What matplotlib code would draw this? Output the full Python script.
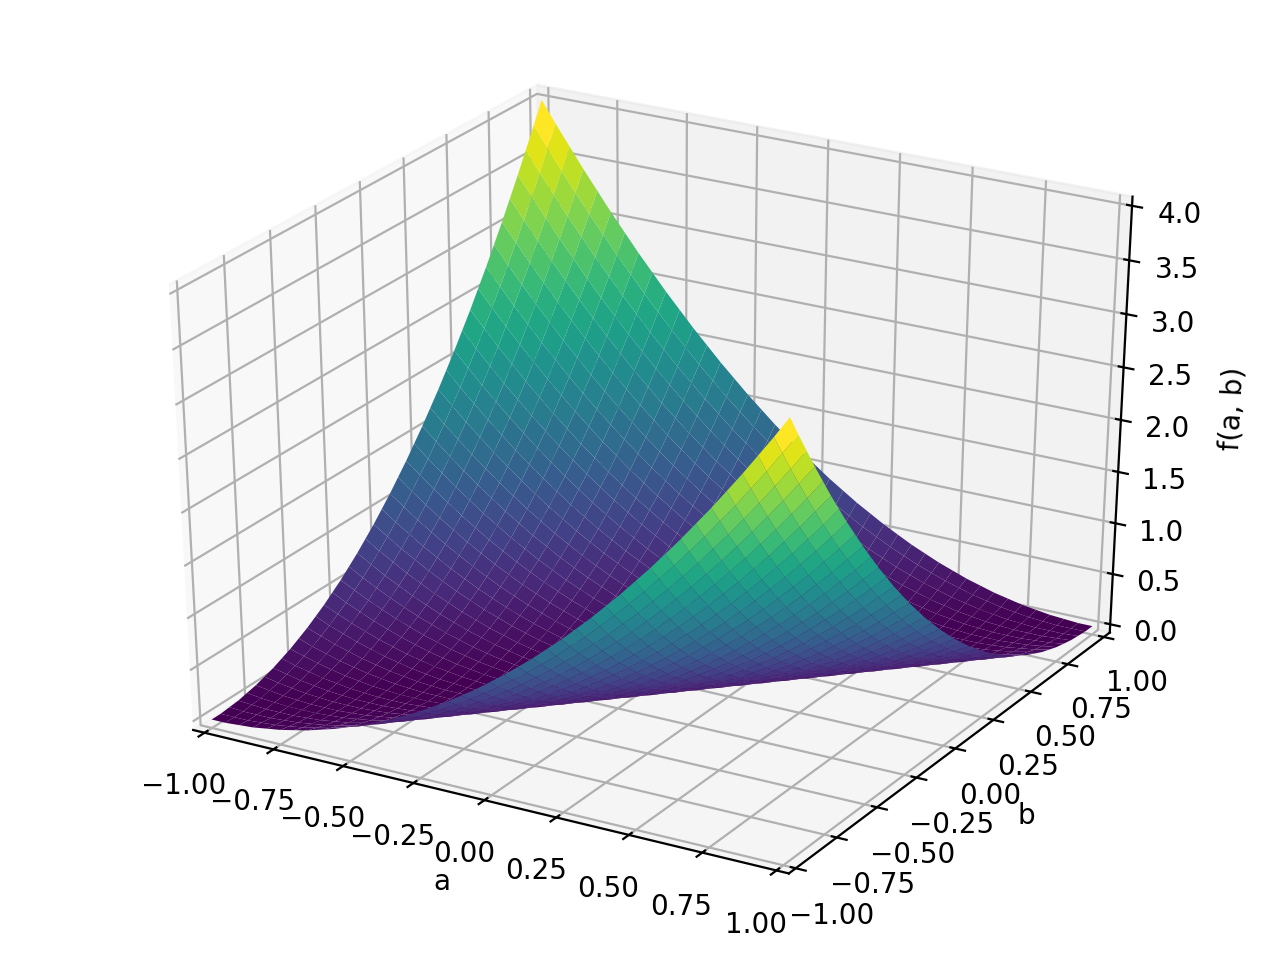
import numpy as np
import matplotlib
matplotlib.use("Agg")
import matplotlib.pyplot as plt

a_values = [-1.0, -0.95, -0.9, -0.85, -0.8, -0.75, -0.7, -0.65, -0.6, -0.55, -0.5, -0.45, -0.4, -0.35,
            -0.3, -0.25, -0.2, -0.15, -0.1, -0.05, 0.0, 0.05, 0.1, 0.15, 0.2, 0.25, 0.3, 0.35, 0.4, 0.45,
            0.5, 0.55, 0.6, 0.65, 0.7, 0.75, 0.8, 0.85, 0.9, 0.95, 1.0]
b_values = a_values
ab_ticks = [-1.0, -0.75, -0.5, -0.25, 0.0, 0.25, 0.5, 0.75, 1.0]
f_ticks = [0.0, 0.5, 1.0, 1.5, 2.0, 2.5, 3.0, 3.5, 4.0]

# heights, one row per b
f_values = [
    [0,0,.01,.02,.04,.06,.09,.12,.16,.2,.25,.3,.36,.42,.49,.56,.64,.72,.81,.9,1,1.1,1.21,1.32,1.44,1.56,1.69,1.82,1.96,2.1,2.25,2.4,2.56,2.72,2.89,3.06,3.24,3.42,3.61,3.8,4],
    [0,0,0,.01,.02,.04,.06,.09,.12,.16,.2,.25,.3,.36,.42,.49,.56,.64,.72,.81,.9,1,1.1,1.21,1.32,1.44,1.56,1.69,1.82,1.96,2.1,2.25,2.4,2.56,2.72,2.89,3.06,3.24,3.42,3.61,3.8],
    [.01,0,0,0,.01,.02,.04,.06,.09,.12,.16,.2,.25,.3,.36,.42,.49,.56,.64,.72,.81,.9,1,1.1,1.21,1.32,1.44,1.56,1.69,1.82,1.96,2.1,2.25,2.4,2.56,2.72,2.89,3.06,3.24,3.42,3.61],
    [.02,.01,0,0,0,.01,.02,.04,.06,.09,.12,.16,.2,.25,.3,.36,.42,.49,.56,.64,.72,.81,.9,1,1.1,1.21,1.32,1.44,1.56,1.69,1.82,1.96,2.1,2.25,2.4,2.56,2.72,2.89,3.06,3.24,3.42],
    [.04,.02,.01,0,0,0,.01,.02,.04,.06,.09,.12,.16,.2,.25,.3,.36,.42,.49,.56,.64,.72,.81,.9,1,1.1,1.21,1.32,1.44,1.56,1.69,1.82,1.96,2.1,2.25,2.4,2.56,2.72,2.89,3.06,3.24],
    [.06,.04,.02,.01,0,0,0,.01,.02,.04,.06,.09,.12,.16,.2,.25,.3,.36,.42,.49,.56,.64,.72,.81,.9,1,1.1,1.21,1.32,1.44,1.56,1.69,1.82,1.96,2.1,2.25,2.4,2.56,2.72,2.89,3.06],
    [.09,.06,.04,.02,.01,0,0,0,.01,.02,.04,.06,.09,.12,.16,.2,.25,.3,.36,.42,.49,.56,.64,.72,.81,.9,1,1.1,1.21,1.32,1.44,1.56,1.69,1.82,1.96,2.1,2.25,2.4,2.56,2.72,2.89],
    [.12,.09,.06,.04,.02,.01,0,0,0,.01,.02,.04,.06,.09,.12,.16,.2,.25,.3,.36,.42,.49,.56,.64,.72,.81,.9,1,1.1,1.21,1.32,1.44,1.56,1.69,1.82,1.96,2.1,2.25,2.4,2.56,2.72],
    [.16,.12,.09,.06,.04,.02,.01,0,0,0,.01,.02,.04,.06,.09,.12,.16,.2,.25,.3,.36,.42,.49,.56,.64,.72,.81,.9,1,1.1,1.21,1.32,1.44,1.56,1.69,1.82,1.96,2.1,2.25,2.4,2.56],
    [.2,.16,.12,.09,.06,.04,.02,.01,0,0,0,.01,.02,.04,.06,.09,.12,.16,.2,.25,.3,.36,.42,.49,.56,.64,.72,.81,.9,1,1.1,1.21,1.32,1.44,1.56,1.69,1.82,1.96,2.1,2.25,2.4],
    [.25,.2,.16,.12,.09,.06,.04,.02,.01,0,0,0,.01,.02,.04,.06,.09,.12,.16,.2,.25,.3,.36,.42,.49,.56,.64,.72,.81,.9,1,1.1,1.21,1.32,1.44,1.56,1.69,1.82,1.96,2.1,2.25],
    [.3,.25,.2,.16,.12,.09,.06,.04,.02,.01,0,0,0,.01,.02,.04,.06,.09,.12,.16,.2,.25,.3,.36,.42,.49,.56,.64,.72,.81,.9,1,1.1,1.21,1.32,1.44,1.56,1.69,1.82,1.96,2.1],
    [.36,.3,.25,.2,.16,.12,.09,.06,.04,.02,.01,0,0,0,.01,.02,.04,.06,.09,.12,.16,.2,.25,.3,.36,.42,.49,.56,.64,.72,.81,.9,1,1.1,1.21,1.32,1.44,1.56,1.69,1.82,1.96],
    [.42,.36,.3,.25,.2,.16,.12,.09,.06,.04,.02,.01,0,0,0,.01,.02,.04,.06,.09,.12,.16,.2,.25,.3,.36,.42,.49,.56,.64,.72,.81,.9,1,1.1,1.21,1.32,1.44,1.56,1.69,1.82],
    [.49,.42,.36,.3,.25,.2,.16,.12,.09,.06,.04,.02,.01,0,0,0,.01,.02,.04,.06,.09,.12,.16,.2,.25,.3,.36,.42,.49,.56,.64,.72,.81,.9,1,1.1,1.21,1.32,1.44,1.56,1.69],
    [.56,.49,.42,.36,.3,.25,.2,.16,.12,.09,.06,.04,.02,.01,0,0,0,.01,.02,.04,.06,.09,.12,.16,.2,.25,.3,.36,.42,.49,.56,.64,.72,.81,.9,1,1.1,1.21,1.32,1.44,1.56],
    [.64,.56,.49,.42,.36,.3,.25,.2,.16,.12,.09,.06,.04,.02,.01,0,0,0,.01,.02,.04,.06,.09,.12,.16,.2,.25,.3,.36,.42,.49,.56,.64,.72,.81,.9,1,1.1,1.21,1.32,1.44],
    [.72,.64,.56,.49,.42,.36,.3,.25,.2,.16,.12,.09,.06,.04,.02,.01,0,0,0,.01,.02,.04,.06,.09,.12,.16,.2,.25,.3,.36,.42,.49,.56,.64,.72,.81,.9,1,1.1,1.21,1.32],
    [.81,.72,.64,.56,.49,.42,.36,.3,.25,.2,.16,.12,.09,.06,.04,.02,.01,0,0,0,.01,.02,.04,.06,.09,.12,.16,.2,.25,.3,.36,.42,.49,.56,.64,.72,.81,.9,1,1.1,1.21],
    [.9,.81,.72,.64,.56,.49,.42,.36,.3,.25,.2,.16,.12,.09,.06,.04,.02,.01,0,0,0,.01,.02,.04,.06,.09,.12,.16,.2,.25,.3,.36,.42,.49,.56,.64,.72,.81,.9,1,1.1],
    [1,.9,.81,.72,.64,.56,.49,.42,.36,.3,.25,.2,.16,.12,.09,.06,.04,.02,.01,0,0,0,.01,.02,.04,.06,.09,.12,.16,.2,.25,.3,.36,.42,.49,.56,.64,.72,.81,.9,1],
    [1.1,1,.9,.81,.72,.64,.56,.49,.42,.36,.3,.25,.2,.16,.12,.09,.06,.04,.02,.01,0,0,0,.01,.02,.04,.06,.09,.12,.16,.2,.25,.3,.36,.42,.49,.56,.64,.72,.81,.9],
    [1.21,1.1,1,.9,.81,.72,.64,.56,.49,.42,.36,.3,.25,.2,.16,.12,.09,.06,.04,.02,.01,0,0,0,.01,.02,.04,.06,.09,.12,.16,.2,.25,.3,.36,.42,.49,.56,.64,.72,.81],
    [1.32,1.21,1.1,1,.9,.81,.72,.64,.56,.49,.42,.36,.3,.25,.2,.16,.12,.09,.06,.04,.02,.01,0,0,0,.01,.02,.04,.06,.09,.12,.16,.2,.25,.3,.36,.42,.49,.56,.64,.72],
    [1.44,1.32,1.21,1.1,1,.9,.81,.72,.64,.56,.49,.42,.36,.3,.25,.2,.16,.12,.09,.06,.04,.02,.01,0,0,0,.01,.02,.04,.06,.09,.12,.16,.2,.25,.3,.36,.42,.49,.56,.64],
    [1.56,1.44,1.32,1.21,1.1,1,.9,.81,.72,.64,.56,.49,.42,.36,.3,.25,.2,.16,.12,.09,.06,.04,.02,.01,0,0,0,.01,.02,.04,.06,.09,.12,.16,.2,.25,.3,.36,.42,.49,.56],
    [1.69,1.56,1.44,1.32,1.21,1.1,1,.9,.81,.72,.64,.56,.49,.42,.36,.3,.25,.2,.16,.12,.09,.06,.04,.02,.01,0,0,0,.01,.02,.04,.06,.09,.12,.16,.2,.25,.3,.36,.42,.49],
    [1.82,1.69,1.56,1.44,1.32,1.21,1.1,1,.9,.81,.72,.64,.56,.49,.42,.36,.3,.25,.2,.16,.12,.09,.06,.04,.02,.01,0,0,0,.01,.02,.04,.06,.09,.12,.16,.2,.25,.3,.36,.42],
    [1.96,1.82,1.69,1.56,1.44,1.32,1.21,1.1,1,.9,.81,.72,.64,.56,.49,.42,.36,.3,.25,.2,.16,.12,.09,.06,.04,.02,.01,0,0,0,.01,.02,.04,.06,.09,.12,.16,.2,.25,.3,.36],
    [2.1,1.96,1.82,1.69,1.56,1.44,1.32,1.21,1.1,1,.9,.81,.72,.64,.56,.49,.42,.36,.3,.25,.2,.16,.12,.09,.06,.04,.02,.01,0,0,0,.01,.02,.04,.06,.09,.12,.16,.2,.25,.3],
    [2.25,2.1,1.96,1.82,1.69,1.56,1.44,1.32,1.21,1.1,1,.9,.81,.72,.64,.56,.49,.42,.36,.3,.25,.2,.16,.12,.09,.06,.04,.02,.01,0,0,0,.01,.02,.04,.06,.09,.12,.16,.2,.25],
    [2.4,2.25,2.1,1.96,1.82,1.69,1.56,1.44,1.32,1.21,1.1,1,.9,.81,.72,.64,.56,.49,.42,.36,.3,.25,.2,.16,.12,.09,.06,.04,.02,.01,0,0,0,.01,.02,.04,.06,.09,.12,.16,.2],
    [2.56,2.4,2.25,2.1,1.96,1.82,1.69,1.56,1.44,1.32,1.21,1.1,1,.9,.81,.72,.64,.56,.49,.42,.36,.3,.25,.2,.16,.12,.09,.06,.04,.02,.01,0,0,0,.01,.02,.04,.06,.09,.12,.16],
    [2.72,2.56,2.4,2.25,2.1,1.96,1.82,1.69,1.56,1.44,1.32,1.21,1.1,1,.9,.81,.72,.64,.56,.49,.42,.36,.3,.25,.2,.16,.12,.09,.06,.04,.02,.01,0,0,0,.01,.02,.04,.06,.09,.12],
    [2.89,2.72,2.56,2.4,2.25,2.1,1.96,1.82,1.69,1.56,1.44,1.32,1.21,1.1,1,.9,.81,.72,.64,.56,.49,.42,.36,.3,.25,.2,.16,.12,.09,.06,.04,.02,.01,0,0,0,.01,.02,.04,.06,.09],
    [3.06,2.89,2.72,2.56,2.4,2.25,2.1,1.96,1.82,1.69,1.56,1.44,1.32,1.21,1.1,1,.9,.81,.72,.64,.56,.49,.42,.36,.3,.25,.2,.16,.12,.09,.06,.04,.02,.01,0,0,0,.01,.02,.04,.06],
    [3.24,3.06,2.89,2.72,2.56,2.4,2.25,2.1,1.96,1.82,1.69,1.56,1.44,1.32,1.21,1.1,1,.9,.81,.72,.64,.56,.49,.42,.36,.3,.25,.2,.16,.12,.09,.06,.04,.02,.01,0,0,0,.01,.02,.04],
    [3.42,3.24,3.06,2.89,2.72,2.56,2.4,2.25,2.1,1.96,1.82,1.69,1.56,1.44,1.32,1.21,1.1,1,.9,.81,.72,.64,.56,.49,.42,.36,.3,.25,.2,.16,.12,.09,.06,.04,.02,.01,0,0,0,.01,.02],
    [3.61,3.42,3.24,3.06,2.89,2.72,2.56,2.4,2.25,2.1,1.96,1.82,1.69,1.56,1.44,1.32,1.21,1.1,1,.9,.81,.72,.64,.56,.49,.42,.36,.3,.25,.2,.16,.12,.09,.06,.04,.02,.01,0,0,0,.01],
    [3.8,3.61,3.42,3.24,3.06,2.89,2.72,2.56,2.4,2.25,2.1,1.96,1.82,1.69,1.56,1.44,1.32,1.21,1.1,1,.9,.81,.72,.64,.56,.49,.42,.36,.3,.25,.2,.16,.12,.09,.06,.04,.02,.01,0,0,0],
    [4,3.8,3.61,3.42,3.24,3.06,2.89,2.72,2.56,2.4,2.25,2.1,1.96,1.82,1.69,1.56,1.44,1.32,1.21,1.1,1,.9,.81,.72,.64,.56,.49,.42,.36,.3,.25,.2,.16,.12,.09,.06,.04,.02,.01,0,0],
]

A, B = np.meshgrid(a_values, b_values)
F = np.array(f_values)

fig = plt.figure(figsize=(6.4, 4.8), dpi=200)
ax = fig.add_subplot(projection='3d')
ax.margins(0)
surf = ax.plot_surface(A, B, F, cmap='viridis', rstride=1, cstride=1)
surf.set_clip_on(False)
ax.set_xlabel('a', labelpad=-1.5)
ax.set_ylabel('b', labelpad=-1.5)
ax.set_zlabel('f(a, b)', labelpad=-1)
ax.set_xticks(ab_ticks)
ax.set_yticks(ab_ticks)
ax.set_zticks(f_ticks)
ax.tick_params(axis='x', pad=1.5)
ax.tick_params(axis='y', pad=1.5)
ax.tick_params(axis='z', pad=0.3)

# reference has the old stretched 3d box, so keep the full axes rectangle
ax.set_box_aspect((1, 1, 1), zoom=1.164)
ax.set_proj_type('persp', focal_length=1.28)
ax.apply_aspect = lambda position=None: None
ax.set_position([0.116, 0.122, 0.776, 0.765])

fig.savefig('out.png')
